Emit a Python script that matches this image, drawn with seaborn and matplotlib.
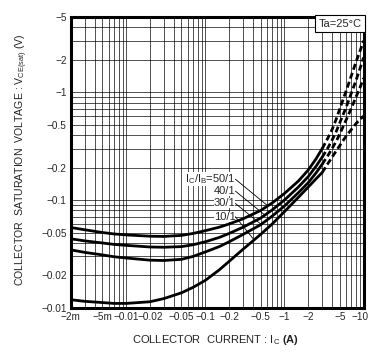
import pandas as pd
import seaborn as sns
import matplotlib.pyplot as plt
import matplotlib.transforms as mtransforms
from matplotlib.ticker import FixedLocator, FixedFormatter, NullFormatter

# collector current (A) and |VCE(sat)| (V) for each Ic/IB ratio
ic = [0.002, 0.003, 0.005, 0.007, 0.01, 0.02, 0.03, 0.05, 0.07, 0.1, 0.15, 0.2, 0.3, 0.5, 0.7,
      1, 1.5, 2, 2.5, 3, 3.5, 4, 4.5, 5, 6, 7, 8, 9, 10]
v_50 = [0.0556, 0.0530, 0.0500, 0.0485, 0.0475, 0.0462, 0.0460, 0.0470, 0.0490, 0.052, 0.056, 0.060,
        0.067, 0.080, 0.094, 0.115, 0.150, 0.19, 0.24, 0.30, 0.37, 0.45, 0.56, 0.70, 1.02, 1.42,
        1.9, 2.4, 3.0]
v_40 = [0.0437, 0.0418, 0.0400, 0.0388, 0.0380, 0.0367, 0.0365, 0.0370, 0.0385, 0.041, 0.045, 0.049,
        0.056, 0.068, 0.081, 0.100, 0.132, 0.165, 0.205, 0.25, 0.30, 0.36, 0.43, 0.52, 0.72, 0.98,
        1.28, 1.65, 2.1]
v_30 = [0.0345, 0.0327, 0.0310, 0.0298, 0.0290, 0.0277, 0.0275, 0.0282, 0.0300, 0.033, 0.037, 0.041,
        0.048, 0.059, 0.071, 0.088, 0.117, 0.145, 0.178, 0.215, 0.255, 0.30, 0.35, 0.41, 0.55, 0.71,
        0.9, 1.1, 1.35]
v_10 = [0.0119, 0.0115, 0.0112, 0.0110, 0.0110, 0.0114, 0.0122, 0.0138, 0.0155, 0.0180, 0.0225, 0.027,
        0.035, 0.048, 0.060, 0.078, 0.106, 0.132, 0.157, 0.18, 0.215, 0.25, 0.285, 0.32, 0.39, 0.45,
        0.51, 0.56, 0.60]

ratios = ['50/1', '40/1', '30/1', '10/1']
curves = [v_50, v_40, v_30, v_10]

# label positions (Ic, V) and leader line targets
label_pos = [(0.24, 0.156), (0.24, 0.121), (0.24, 0.093), (0.24, 0.070)]
leader_to = [(0.62, 0.088), (0.56, 0.073), (0.5, 0.060), (0.41, 0.043)]

x_ticks = [0.002, 0.005, 0.01, 0.02, 0.05, 0.1, 0.2, 0.5, 1, 2, 5, 10]
x_labels = ['−2m', '−5m', '−0.01', '−0.02', '−0.05', '−0.1', '−0.2', '−0.5', '−1', '−2', '−5', '−10']
y_ticks = [0.01, 0.02, 0.05, 0.1, 0.2, 0.5, 1, 2, 5]
y_labels = ['−0.01', '−0.02', '−0.05', '−0.1', '−0.2', '−0.5', '−1', '−2', '−5']

rows = []
for r, v in zip(ratios, curves):
    for a, b in zip(ic, v):
        rows.append({'ratio': r, 'ic': a, 'v': b})
df = pd.DataFrame(rows)

sns.set_style('white')
plt.rcParams['font.family'] = ['Liberation Sans', 'DejaVu Sans']
plt.rcParams['mathtext.fontset'] = 'custom'
plt.rcParams['mathtext.rm'] = 'Liberation Sans'
plt.rcParams['mathtext.bf'] = 'Liberation Sans:bold'

fig = plt.figure(figsize=(3.71, 3.58), dpi=100)
ax = fig.add_axes([0.191, 0.140, 0.789, 0.813])
ax.set_xscale('log')
ax.set_yscale('log')

for r in ratios:
    d = df[df['ratio'] == r]
    solid = d[d['ic'] <= 3]
    dash = d[d['ic'] >= 3]
    sns.lineplot(data=solid, x='ic', y='v', ax=ax, color='black', lw=2.0,
                 estimator=None, sort=False, zorder=4)
    sns.lineplot(data=dash, x='ic', y='v', ax=ax, color='black', lw=2.0,
                 estimator=None, sort=False, linestyle=(0, (2.2, 1.2)), zorder=4)

ax.set_xlim(0.002, 10)
ax.set_ylim(0.01, 5)

ax.grid(which='both', color='black', lw=0.6, alpha=0.8)
ax.set_axisbelow(True)

ax.xaxis.set_major_locator(FixedLocator(x_ticks))
ax.xaxis.set_major_formatter(FixedFormatter(x_labels))
ax.xaxis.set_minor_formatter(NullFormatter())
ax.yaxis.set_major_locator(FixedLocator(y_ticks))
ax.yaxis.set_major_formatter(FixedFormatter(y_labels))
ax.yaxis.set_minor_formatter(NullFormatter())
ax.tick_params(which='both', length=0, pad=3)
for t in ax.get_xticklabels() + ax.get_yticklabels():
    t.set_family(['Liberation Sans Narrow', 'Liberation Sans', 'DejaVu Sans'])
    t.set_fontsize(7.2)
# keep the last x label inside the figure
last = ax.get_xticklabels()[-1]
last.set_transform(last.get_transform() +
                   mtransforms.ScaledTranslation(-4 / 100, 0, fig.dpi_scale_trans))

for s in ax.spines.values():
    s.set_linewidth(2.2)
    s.set_color('black')

ax.set_xlabel('')
ax.set_ylabel('')
fig.text(0.06, 0.555, 'COLLECTOR  SATURATION  VOLTAGE : V$_\\mathregular{CE(sat)}$ (V)',
         rotation=90, ha='center', va='center', fontsize=7.6, color='#222')
fig.text(0.58, 0.05, 'COLLECTOR  CURRENT : I$_\\mathregular{C}$ $\\mathbf{(A)}$',
         ha='center', va='center', fontsize=8, color='#222')

ax.text(0.993, 0.994, 'Ta=25°C', transform=ax.transAxes, ha='right', va='top',
        fontsize=8, zorder=5,
        bbox=dict(facecolor='white', edgecolor='black', lw=0.8, pad=2.5))

for i, r in enumerate(ratios):
    txt = ('I$_\\mathregular{C}$/I$_\\mathregular{B}$=' + r) if i == 0 else r
    x0, y0 = label_pos[i]
    ax.annotate(txt, xy=leader_to[i], xytext=(x0, y0), ha='right', va='center',
                fontsize=8, zorder=3,
                bbox=dict(facecolor='white', edgecolor='none', pad=0.0),
                arrowprops=dict(arrowstyle='-', color='black', lw=0.6,
                                shrinkA=0, shrinkB=0,
                                relpos=(1.0, 0.5)))

fig.savefig('out.png', dpi=100)
